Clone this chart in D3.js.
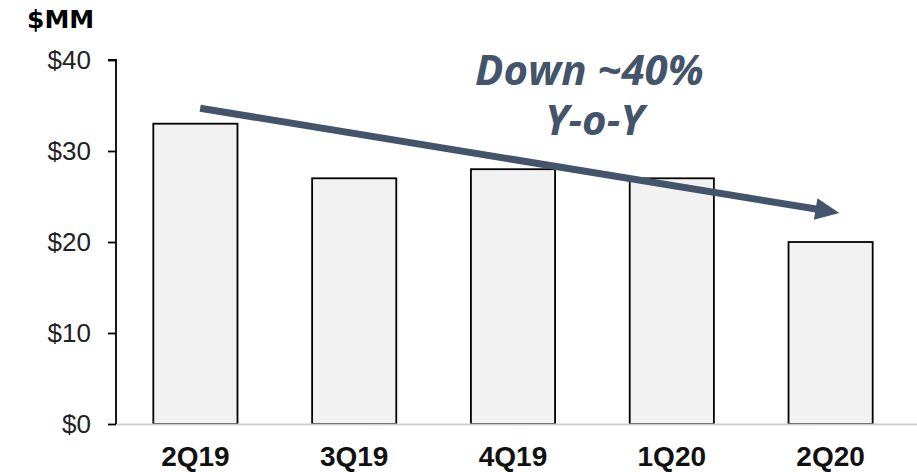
<!DOCTYPE html>
<html>
<head>
<meta charset="utf-8">
<script src="https://cdn.jsdelivr.net/npm/d3@7"></script>
<style>
  html, body { margin: 0; padding: 0; background: #fff; }
  svg { display: block; }
</style>
</head>
<body>
<svg id="chart" width="917" height="472"></svg>
<script>
const categories = ["2Q19", "3Q19", "4Q19", "1Q20", "2Q20"];
const values = [33, 27, 28, 27, 20];
const yTicks = [0, 10, 20, 30, 40];
const unitLabel = "$MM";
const annotationLines = ["Down ~40%", "Y-o-Y"];
// trend arrow in data terms: [category, value]
const arrowFrom = ["2Q19", 34.7];
const arrowTo = ["2Q20", 23.2];

const svg = d3.select("#chart");
const W = 917, H = 472;
const m = { left: 116, right: 7, top: 60, bottom: 48 };
const x = d3.scaleBand().domain(categories).range([m.left, W - m.right]).paddingInner(0.47).paddingOuter(0.235);
const y = d3.scaleLinear().domain([0, 40]).range([H - m.bottom, m.top]);

const slate = "#44546A";

// bars
svg.append("g").selectAll("rect").data(categories).join("rect")
  .attr("x", d => x(d))
  .attr("width", x.bandwidth())
  .attr("y", (d, i) => y(values[i]))
  .attr("height", (d, i) => y(0) - y(values[i]))
  .attr("fill", "#f2f2f2")
  .attr("stroke", "#000")
  .attr("stroke-width", 1.8);

// baseline (gray)
svg.append("line")
  .attr("x1", m.left).attr("x2", W)
  .attr("y1", y(0) + 0.5).attr("y2", y(0) + 0.5)
  .attr("stroke", "#d0d0d0").attr("stroke-width", 2);

// y axis
const yAxis = d3.axisLeft(y).tickValues(yTicks).tickFormat(d => "$" + d).tickSize(8).tickPadding(17);
const gy = svg.append("g").attr("transform", `translate(${m.left},0)`).call(yAxis);
gy.select(".domain").attr("stroke", "#000").attr("stroke-width", 1.8).attr("d", `M-8,${y(40)}H0V${y(0)}`);
gy.selectAll(".tick line").attr("stroke", "#000").attr("stroke-width", 1.8);
gy.selectAll(".tick text")
  .attr("fill", "#222")
  .style("font-family", "Liberation Sans, Arial, sans-serif")
  .style("font-size", "26px");

// x axis labels
const xAxis = d3.axisBottom(x).tickSize(0).tickPadding(22);
const gx = svg.append("g").attr("transform", `translate(0,${y(0)})`).call(xAxis);
gx.select(".domain").remove();
gx.selectAll(".tick text")
  .attr("fill", "#111")
  .style("font-family", "Liberation Sans, Arial, sans-serif")
  .style("font-weight", "bold")
  .style("font-size", "28px");

// unit label
svg.append("text")
  .attr("x", 27).attr("y", 28)
  .attr("fill", "#000")
  .style("font-family", "DejaVu Sans, Verdana, sans-serif")
  .style("font-weight", "bold")
  .style("font-size", "25px")
  .text(unitLabel);

// arrow
const step = x.step();
const ax1 = x(arrowFrom[0]) + x.bandwidth() / 2 + 0.03 * step;
const ay1 = y(arrowFrom[1]);
const ax2 = x(arrowTo[0]) + x.bandwidth() / 2 + 0.055 * step;
const ay2 = y(arrowTo[1]);
const ang = Math.atan2(ay2 - ay1, ax2 - ax1);
const headLen = 24, headHalf = 11;
const bx = ax2 - headLen * Math.cos(ang), by = ay2 - headLen * Math.sin(ang);
svg.append("line")
  .attr("x1", ax1).attr("y1", ay1).attr("x2", bx + 2 * Math.cos(ang)).attr("y2", by + 2 * Math.sin(ang))
  .attr("stroke", slate).attr("stroke-width", 7);
const px = -Math.sin(ang), py = Math.cos(ang);
svg.append("path")
  .attr("d", `M${ax2},${ay2}L${bx + px * headHalf},${by + py * headHalf}L${bx - px * headHalf},${by - py * headHalf}Z`)
  .attr("fill", slate);

// annotation text
const tx = (x(categories[2]) + x(categories[3]) + x.bandwidth()) / 2;
const ann = svg.append("text")
  .attr("text-anchor", "middle")
  .attr("fill", slate)
  .style("font-family", "Open Sans, sans-serif")
  .style("font-weight", "bold")
  .style("font-style", "italic")
  .style("font-size", "42px");
ann.append("tspan").attr("x", tx - 3).attr("y", y(37.3)).text(annotationLines[0]);
ann.append("tspan").attr("x", tx + 2).attr("y", y(31.75)).text(annotationLines[1]);
</script>
</body>
</html>
